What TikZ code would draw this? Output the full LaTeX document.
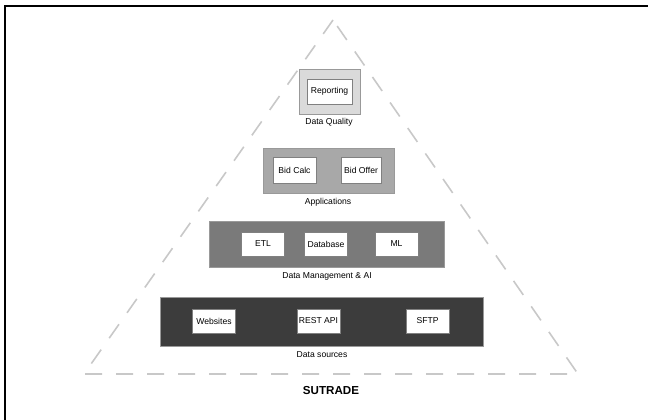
\documentclass[tikz,border=0pt]{standalone}
\usepackage{fontspec}
\setmainfont{Liberation Sans}
\usetikzlibrary{positioning}
\definecolor{qualitygray}{HTML}{DADADA}
\definecolor{appgray}{HTML}{A8A8A8}
\definecolor{mgmtgray}{HTML}{7A7A7A}
\definecolor{sourcegray}{HTML}{3C3C3C}
\definecolor{guidegray}{HTML}{C8C8C8}

\begin{document}
\begin{tikzpicture}[x=1pt,y=-1pt,
layer/.style={draw=gray!80,line width=0.8pt,inner sep=0pt,outer sep=0pt},
item/.style={draw=gray,fill=white,line width=0.8pt,inner sep=0pt,outer sep=0pt,font=\fontsize{8.6}{10}\selectfont},
caption/.style={inner sep=0pt,font=\fontsize{8.6}{10}\selectfont}]
\useasboundingbox (0,0) rectangle (648,420);
% The frame
\draw[line width=2.4pt] (5,420) -- (5,6) -- (648,6);
% The pyramid
\draw[guidegray,line width=1.6pt,dash pattern=on 17pt off 14pt]
  (333,20) -- (84,374) -- (578,374) -- cycle;

% Data quality
\node[layer,fill=qualitygray,minimum width=61,minimum height=45] (quality) at (329.5,91.5) {};
\node[item,minimum width=45,minimum height=25] (reporting) at (quality) {Reporting};
\node[caption] (qualitylbl) at (329,122) {Data Quality};

% Applications
\node[layer,fill=appgray,minimum width=131,minimum height=45] (apps) at (328.5,170.5) {};
\node[item,minimum width=43,minimum height=26] (bidcalc) at (294.5,170) {Bid Calc};
\node[item,minimum width=40,minimum height=26] (bidoffer) at (361,170) {Bid Offer};
\node[caption] (appslbl) at (328,202) {Applications};

% Data management
\node[layer,fill=mgmtgray,minimum width=235,minimum height=46] (mgmt) at (326.5,244) {};
\foreach \name/\xx/\txt in {etl/263/ETL,database/326/Database,ml/396.5/ML}
  \node[item,minimum width=43,minimum height=24] (\name) at (\xx,244) {\txt};
\node[caption] (mgmtlbl) at (327,276) {Data Management \& AI};

% Data sources
\node[layer,fill=sourcegray,minimum width=323,minimum height=49] (sources) at (321.5,321.5) {};
\foreach \name/\xx/\txt in {websites/214/Websites,restapi/318.5/REST API,sftp/427.5/SFTP}
  \node[item,minimum width=43,minimum height=24] (\name) at (\xx,321) {\txt};
\node[caption] (sourceslbl) at (322,355) {Data sources};

% The title
\node[inner sep=0pt,font=\fontsize{11.6}{14}\selectfont\bfseries] (title) at (331,391) {SUTRADE};
\end{tikzpicture}
\end{document}
